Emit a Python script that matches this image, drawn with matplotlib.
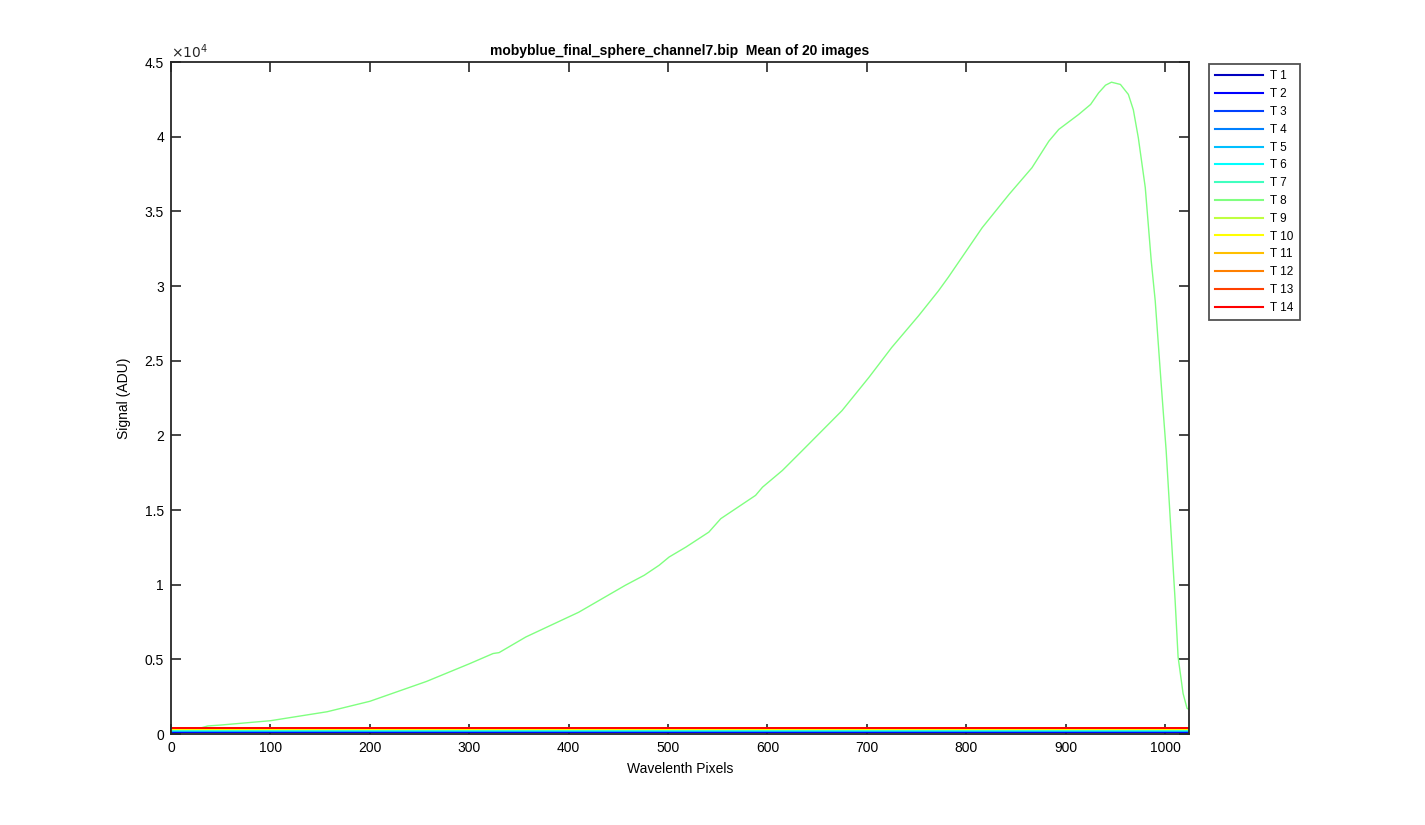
import matplotlib
matplotlib.use('Agg')
import matplotlib.pyplot as plt
from matplotlib.ticker import FuncFormatter, MultipleLocator
from matplotlib.lines import Line2D

plt.rcParams['font.family'] = ['Liberation Sans', 'DejaVu Sans']

# ---- data ----
series_names = ['T %d' % i for i in range(1, 15)]
series_colors = [(0, 0, 0.75), (0, 0, 1), (0, 0.25, 1), (0, 0.5, 1), (0, 0.75, 1),
                 (0, 1, 1), (0.25, 1, 0.75), (0.5, 1, 0.5), (0.75, 1, 0.25),
                 (1, 1, 0), (1, 0.75, 0), (1, 0.5, 0), (1, 0.25, 0), (1, 0, 0)]

# flat (dark-ish) levels for every series except T 8
flat_levels = [150, 160, 180, 210, 230, 240, 250, None, 360, 365, 370, 375, 378, 382]
pixel_range = [1, 1024]

# T 8 spectrum
t8_x = [1, 29, 37, 50, 100, 157, 200, 257, 300, 324, 330, 357, 400, 410, 457, 476,
        491, 501, 518, 541, 553, 588, 595, 615, 635, 675, 702, 725, 752, 772, 782,
        816, 843, 866, 883, 893, 913, 925, 933, 940, 946, 955, 963, 968, 973, 980,
        986, 990, 996, 1001, 1006, 1010, 1013, 1018, 1022, 1024]
t8_y = [380, 390, 540, 600, 890, 1490, 2190, 3520, 4700, 5390, 5450, 6500, 7840, 8150,
        9960, 10630, 11300, 11850, 12520, 13520, 14420, 15980, 16530, 17650, 18980,
        21660, 23880, 25890, 28010, 29680, 30600, 33910, 36140, 37920, 39700, 40490,
        41490, 42160, 42930, 43450, 43650, 43500, 42830, 41800, 39930, 36590, 31680,
        29010, 23440, 18980, 13420, 8960, 5170, 2720, 1720, 1650]

fig = plt.figure(figsize=(14.25, 8.25), dpi=100)
ax = fig.add_axes([0.12, 0.1103, 0.7144, 0.8145])

for name, col, lvl in zip(series_names, series_colors, flat_levels):
    if lvl is None:
        ax.plot(t8_x, t8_y, color=col, lw=1.0)
    else:
        ax.plot(pixel_range, [lvl, lvl], color=col, lw=1.3)

ax.set_xlim(0, 1024)
ax.set_ylim(0, 45000)
ax.xaxis.set_major_locator(MultipleLocator(100))
ax.yaxis.set_major_locator(MultipleLocator(5000))
ax.yaxis.set_major_formatter(FuncFormatter(lambda v, p: ('%g' % (v / 1e4))))

edge = (0.15, 0.15, 0.15)
for s in ax.spines.values():
    s.set_linewidth(1.3)
    s.set_color(edge)
ax.tick_params(direction='in', top=True, right=True, length=7, width=1.2,
               color=edge, labelsize=10, pad=5)

ax.text(0.0, 1.001, r'$\times10^4$', transform=ax.transAxes, ha='left', va='bottom',
        fontsize=10, color=edge)
ax.set_title('mobyblue_final_sphere_channel7.bip  Mean of 20 images',
             fontsize=10, fontweight='bold', pad=5)
ax.set_xlabel('Wavelenth Pixels', fontsize=10, labelpad=5)
ax.set_ylabel('Signal (ADU)', fontsize=10, labelpad=10)

handles = [Line2D([0], [0], color=c, lw=1.5) for c in series_colors]
leg = fig.legend(handles, series_names, loc='upper left',
                 bbox_to_anchor=(1209 / 1425, 1 - 64 / 825),
                 fontsize=8.5, frameon=True, fancybox=False, handlelength=4.0,
                 labelspacing=0.49, borderpad=0.55, handletextpad=0.6,
                 borderaxespad=0)
leg.get_frame().set_edgecolor(edge)
leg.get_frame().set_linewidth(1.3)

fig.savefig('out.png', dpi=100, facecolor='white')
